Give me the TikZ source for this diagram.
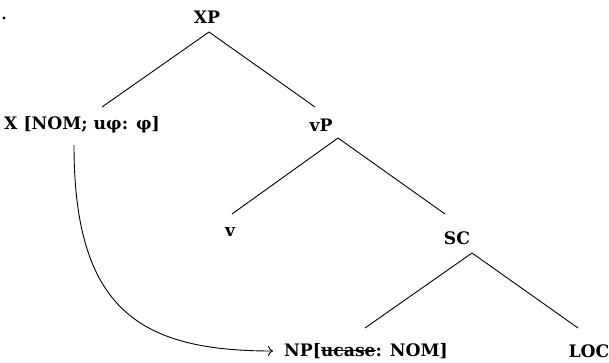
\documentclass[tikz,border=0pt]{standalone}
\usepackage{fontspec}
\setmainfont{DejaVu Serif}
\usetikzlibrary{calc,arrows.meta}
\newsavebox\strkbox
\newcommand\strk[1]{\sbox\strkbox{#1}\rlap{\rule[0.3em]{\wd\strkbox}{0.06em}}\usebox\strkbox}
\tikzset{
  lbl/.style={anchor=base, inner sep=0pt, font=\fontsize{17.2}{20}\selectfont\bfseries},
  branch/.style={line width=0.9pt, black},
  arc/.style={line width=0.9pt, black, -{To[length=5pt,width=10pt]}}
}
\begin{document}
\begin{tikzpicture}[x=1pt,y=-1pt]
\useasboundingbox (0,0) rectangle (609,362);
\fill (4,18) circle (1.6);
\node[lbl] (XP)  at (207,23)  {XP};
\node[lbl] (X)   at (82,129)  {X [NOM; uφ: φ]};
\node[lbl] (vP)  at (321,131) {vP};
\node[lbl] (v)   at (230,236) {v};
\node[lbl] (SC)  at (457,244) {SC};
\node[lbl] (NP)  at (366,356) {NP[\strk{ucase}: NOM]};
\node[lbl] (LOC) at (589,357) {LOC};
\draw[branch] ($(XP.base)+(2,9)$) -- ($(X.base)+(20,-22)$);
\draw[branch] ($(XP.base)+(2,9)$) -- ($(vP.base)+(-6,-24)$);
\draw[branch] ($(vP.base)+(17,7)$) -- ($(v.base)+(2,-22)$);
\draw[branch] ($(vP.base)+(17,7)$) -- ($(SC.base)+(-12,-30)$);
\draw[branch] ($(SC.base)+(15,9)$) -- ($(NP.base)+(-1,-28)$);
\draw[branch] ($(SC.base)+(15,9)$) -- ($(LOC.base)+(-11,-29)$);
\draw[arc] ($(X.base)+(-8,16)$) .. controls (74,310) and (140,351) .. ($(NP.base)+(-93,-5)$);
\end{tikzpicture}
\end{document}
